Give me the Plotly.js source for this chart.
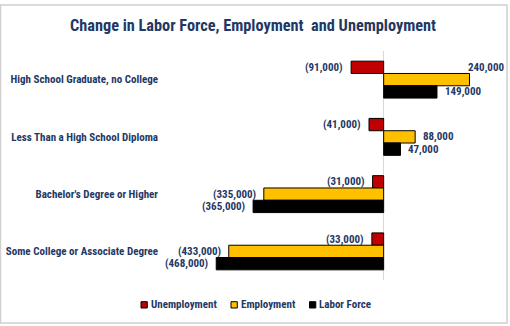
<!DOCTYPE html>
<html>
<head>
<meta charset="utf-8">
<script src="https://cdn.plot.ly/plotly-3.0.1.min.js"></script>
<style>
  html, body { margin: 0; padding: 0; background: #ffffff; }
  #chart { width: 510px; height: 326px; }
</style>
</head>
<body>
<div id="chart"></div>
<script>
// Categories, top to bottom
const categories = [
  "High School Graduate, no College",
  "Less Than a High School Diploma",
  "Bachelor's Degree or Higher",
  "Some College or Associate Degree"
];
const unemployment = [-91000, -41000, -31000, -33000];
const employment   = [240000, 88000, -335000, -433000];
const laborForce   = [149000, 47000, -365000, -468000];

const seriesNames  = ["Unemployment", "Employment", "Labor Force"];
const seriesValues = [unemployment, employment, laborForce];
const seriesColors = ["#C00000", "#FFC000", "#000000"];

const navy = "#1F3864";
const FONT = "'Roboto Condensed', Roboto, 'Liberation Sans', sans-serif";

function fmt(v) {
  const s = Math.abs(v).toLocaleString("en-US");
  return v < 0 ? "(" + s + ")" : s;
}

const traces = seriesNames.map((name, i) => ({
  type: "bar",
  orientation: "h",
  name: name,
  y: categories,
  x: seriesValues[i],
  marker: { color: seriesColors[i], line: { color: "#000000", width: 1 } },
  hoverinfo: "skip"
}));

const xMin = -600000, xMax = 300000;
const barPx = 12.3;
const PL = 169, PR = 491, PT = 51, PB = 280;
const px = x => (x - PL) / (PR - PL);
const py = y => (PB - y) / (PB - PT);

const annotations = [];
seriesValues.forEach((vals, i) => {
  vals.forEach((v, j) => {
    const pos = v >= 0;
    const a = {
      x: v, y: categories[j], xref: "x", yref: "y",
      text: fmt(v), showarrow: false,
      font: { family: FONT, size: 11, color: navy, weight: 700 },
      xanchor: pos ? "left" : "right",
      yanchor: "middle",
      xshift: pos ? 6 : -6,
      yshift: (1 - i) * barPx
    };
    if (pos && v > 0.7 * xMax) {
      a.xanchor = "right";
      a.xshift = 36;
      a.yshift = (1 - i) * barPx + 12;
    }
    annotations.push(a);
  });
});

// custom legend
const legendSquares = [141, 231, 309.5];
const legendTexts = [148.5, 238.5, 317];
const shapes = [
  { type: "rect", xref: "paper", yref: "paper",
    x0: px(0.5), x1: px(507), y0: py(323), y1: py(5),
    line: { color: "#D0D0D0", width: 1.5 }, fillcolor: "rgba(0,0,0,0)", layer: "below" }
];
seriesNames.forEach((name, i) => {
  shapes.push({ type: "rect", xref: "paper", yref: "paper",
    x0: px(legendSquares[i]), x1: px(legendSquares[i] + 6.3),
    y0: py(308), y1: py(301.7),
    fillcolor: seriesColors[i], line: { color: "#000000", width: 1 } });
  annotations.push({ xref: "paper", yref: "paper", x: px(legendTexts[i]), y: py(304.7),
    xanchor: "left", yanchor: "middle", showarrow: false, text: name,
    font: { family: FONT, size: 11, color: navy, weight: 700 } });
});

const layout = {
  width: 510, height: 326,
  margin: { l: PL, r: 510 - PR, t: PT, b: 326 - PB },
  paper_bgcolor: "#ffffff",
  plot_bgcolor: "#ffffff",
  barmode: "group",
  bargap: 0.355,
  bargroupgap: 0,
  showlegend: false,
  title: {
    text: "Change in Labor Force, Employment  and Unemployment",
    font: { family: FONT, size: 16.3, color: navy, weight: 700 },
    x: 253 / 510, xanchor: "center", xref: "container",
    y: 1 - 25 / 326, yanchor: "middle", yref: "container"
  },
  xaxis: {
    range: [xMin, xMax],
    showgrid: false, zeroline: true, zerolinecolor: "#D9D9D9", zerolinewidth: 1,
    showticklabels: false, ticks: "", showline: false, fixedrange: true
  },
  yaxis: {
    type: "category",
    autorange: "reversed",
    showgrid: false, zeroline: false, showline: false, ticks: "",
    ticklabelstandoff: 10,
    tickfont: { family: FONT, size: 11, color: navy, weight: 700 },
    fixedrange: true
  },
  annotations: annotations,
  shapes: shapes
};

Plotly.newPlot("chart", traces, layout, { displayModeBar: false, staticPlot: true });
</script>
</body>
</html>
